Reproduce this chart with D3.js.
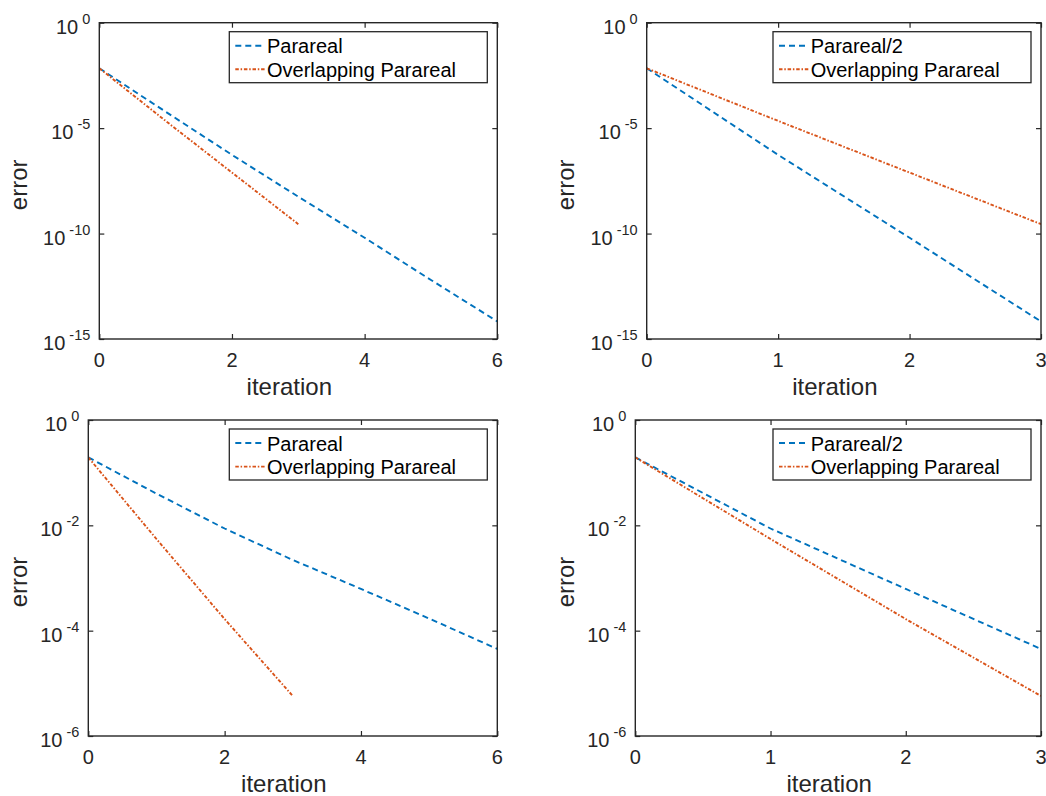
<!DOCTYPE html>
<html>
<head>
<meta charset="utf-8">
<script src="https://cdn.jsdelivr.net/npm/d3@7"></script>
<style>
  body { margin: 0; background: #fff; }
  svg { display: block; font-family: "Liberation Sans", Arial, Helvetica, sans-serif; }
</style>
</head>
<body>
<svg id="chart" width="1046" height="796"></svg>
<script>
// iteration counts
const itersFull = [0, 1, 2, 3, 4, 5, 6];
const itersHalf = [0, 1, 2, 3];

// top row: errors
const topParareal = [6.9e-3, 6.0e-5, 5.4e-7, 5.6e-9, 6.3e-11, 6.3e-13, 6.8e-15];
const topPararealHalf = [6.9e-3, 5.4e-7, 6.3e-11, 6.8e-15];
const topOverlap = [6.9e-3, 2.2e-5, 7.8e-8, 2.8e-10];

// bottom row
const botParareal = [0.195, 4.0e-2, 8.7e-3, 2.2e-3, 6.2e-4, 1.7e-4, 4.5e-5];
const botPararealHalf = [0.195, 8.7e-3, 6.2e-4, 4.5e-5];
const botOverlap = [0.195, 5.5e-3, 1.66e-4, 5.75e-6];

// ticks
const xTicksFull = [0, 2, 4, 6];
const xTicksHalf = [0, 1, 2, 3];
const yTicksTop = [1e0, 1e-5, 1e-10, 1e-15];
const yTicksBot = [1e0, 1e-2, 1e-4, 1e-6];

const blue = "#0072BD", orange = "#D95319", axisColor = "#262626";

const panels = [
  { left: 99.3, top: 22.7, right: 497.3, bottom: 339, ylabX: 26.7,
    xMax: 6, xTicks: xTicksFull, yMin: 1e-15, yTicks: yTicksTop,
    bx: itersFull, by: topParareal, blabel: "Parareal",
    ox: itersHalf, oy: topOverlap },
  { left: 646.7, top: 22.7, right: 1041, bottom: 339, ylabX: 574,
    xMax: 3, xTicks: xTicksHalf, yMin: 1e-15, yTicks: yTicksTop,
    bx: itersHalf, by: topPararealHalf, blabel: "Parareal/2",
    ox: itersHalf, oy: topOverlap },
  { left: 88.3, top: 420, right: 497.3, bottom: 736, ylabX: 27.3,
    xMax: 6, xTicks: xTicksFull, yMin: 1e-6, yTicks: yTicksBot,
    bx: itersFull, by: botParareal, blabel: "Parareal",
    ox: itersHalf, oy: botOverlap },
  { left: 635.3, top: 420, right: 1041, bottom: 736, ylabX: 574,
    xMax: 3, xTicks: xTicksHalf, yMin: 1e-6, yTicks: yTicksBot,
    bx: itersHalf, by: botPararealHalf, blabel: "Parareal/2",
    ox: itersHalf, oy: botOverlap }
];

const svg = d3.select("#chart");

const drawPanel = (p, idx) => {
  let x = d3.scaleLinear().domain([0, p.xMax]).range([p.left, p.right]);
  let y = d3.scaleLog().domain([1, p.yMin]).range([p.top, p.bottom]);
  let g = svg.append("g");

  // mirrored inward ticks on all four sides
  const styleAxis = (sel) => {
    sel.select(".domain").remove();
    sel.selectAll(".tick line").attr("stroke", axisColor).attr("stroke-width", 1.2);
    sel.selectAll(".tick text").remove();
  };
  g.append("g").attr("transform", "translate(0," + p.bottom + ")")
    .call(d3.axisBottom(x).tickValues(p.xTicks).tickSize(-5)).call(styleAxis);
  g.append("g").attr("transform", "translate(0," + p.top + ")")
    .call(d3.axisTop(x).tickValues(p.xTicks).tickSize(-5)).call(styleAxis);
  g.append("g").attr("transform", "translate(" + p.left + ",0)")
    .call(d3.axisLeft(y).tickValues(p.yTicks).tickSize(-5)).call(styleAxis);
  g.append("g").attr("transform", "translate(" + p.right + ",0)")
    .call(d3.axisRight(y).tickValues(p.yTicks).tickSize(-5)).call(styleAxis);

  // clip lines to the axes box
  let clipId = "clip" + idx;
  svg.append("clipPath").attr("id", clipId)
    .append("rect")
    .attr("x", p.left).attr("y", p.top)
    .attr("width", p.right - p.left).attr("height", p.bottom - p.top);

  let line = d3.line()
    .x(function(d) { return x(d[0]) })
    .y(function(d) { return y(d[1]) });

  g.append("path")
    .datum(d3.zip(p.bx, p.by))
    .attr("clip-path", "url(#" + clipId + ")")
    .attr("fill", "none")
    .attr("stroke", blue)
    .attr("stroke-width", 1.9)
    .attr("stroke-dasharray", "6,4")
    .attr("d", line);

  g.append("path")
    .datum(d3.zip(p.ox, p.oy))
    .attr("clip-path", "url(#" + clipId + ")")
    .attr("fill", "none")
    .attr("stroke", orange)
    .attr("stroke-width", 1.9)
    .attr("stroke-dasharray", "3.5,1.8,1.5,1.8")
    .attr("d", line);

  // box
  g.append("rect")
    .attr("x", p.left).attr("y", p.top)
    .attr("width", p.right - p.left).attr("height", p.bottom - p.top)
    .attr("fill", "none")
    .attr("stroke", axisColor)
    .attr("stroke-width", 1.4);

  // x tick labels
  g.selectAll(".xlab")
    .data(p.xTicks)
    .enter().append("text")
    .attr("x", function(d) { return x(d) })
    .attr("y", p.bottom + 27.5)
    .attr("text-anchor", "middle")
    .attr("font-size", 20)
    .attr("fill", axisColor)
    .text(function(d) { return d });

  // y tick labels as 10^n
  let ylab = g.selectAll(".ylab")
    .data(p.yTicks)
    .enter().append("text")
    .attr("x", p.left - 9)
    .attr("y", function(d) { return y(d) + 11 })
    .attr("text-anchor", "end")
    .attr("fill", axisColor);
  ylab.append("tspan").attr("font-size", 20).text("10");
  ylab.append("tspan")
    .attr("font-size", 14.5)
    .attr("dx", 4)
    .attr("dy", -10)
    .text(function(d) { return Math.round(Math.log10(d)) });

  // axis labels
  g.append("text")
    .attr("x", (p.left + p.right) / 2 - 9)
    .attr("y", p.bottom + 55.5)
    .attr("text-anchor", "middle")
    .attr("font-size", 24)
    .attr("fill", axisColor)
    .text("iteration");

  g.append("text")
    .attr("transform", "translate(" + p.ylabX + "," + ((p.top + p.bottom) / 2 + 4) + ") rotate(-90)")
    .attr("text-anchor", "middle")
    .attr("font-size", 24)
    .attr("fill", axisColor)
    .text("error");

  // legend
  let bw = 258, bh = 51;
  let lx = p.right - 10 - bw, ly = p.top + 9;
  let leg = g.append("g").attr("transform", "translate(" + lx + "," + ly + ")");
  leg.append("rect")
    .attr("width", bw).attr("height", bh)
    .attr("fill", "#fff")
    .attr("stroke", axisColor)
    .attr("stroke-width", 1.3);
  let items = [
    { label: p.blabel, color: blue, dash: "6,4" },
    { label: "Overlapping Parareal", color: orange, dash: "3.5,1.8,1.5,1.8" }
  ];
  items.forEach(function(it, i) {
    let cy = 14 + i * 23.6;
    leg.append("line")
      .attr("x1", 6).attr("x2", 36)
      .attr("y1", cy).attr("y2", cy)
      .attr("stroke", it.color)
      .attr("stroke-width", 1.9)
      .attr("stroke-dasharray", it.dash);
    leg.append("text")
      .attr("x", 37.7)
      .attr("y", cy + 7.6)
      .attr("font-size", 20)
      .attr("fill", "#000")
      .text(it.label);
  });
};

panels.forEach(drawPanel);
</script>
</body>
</html>
